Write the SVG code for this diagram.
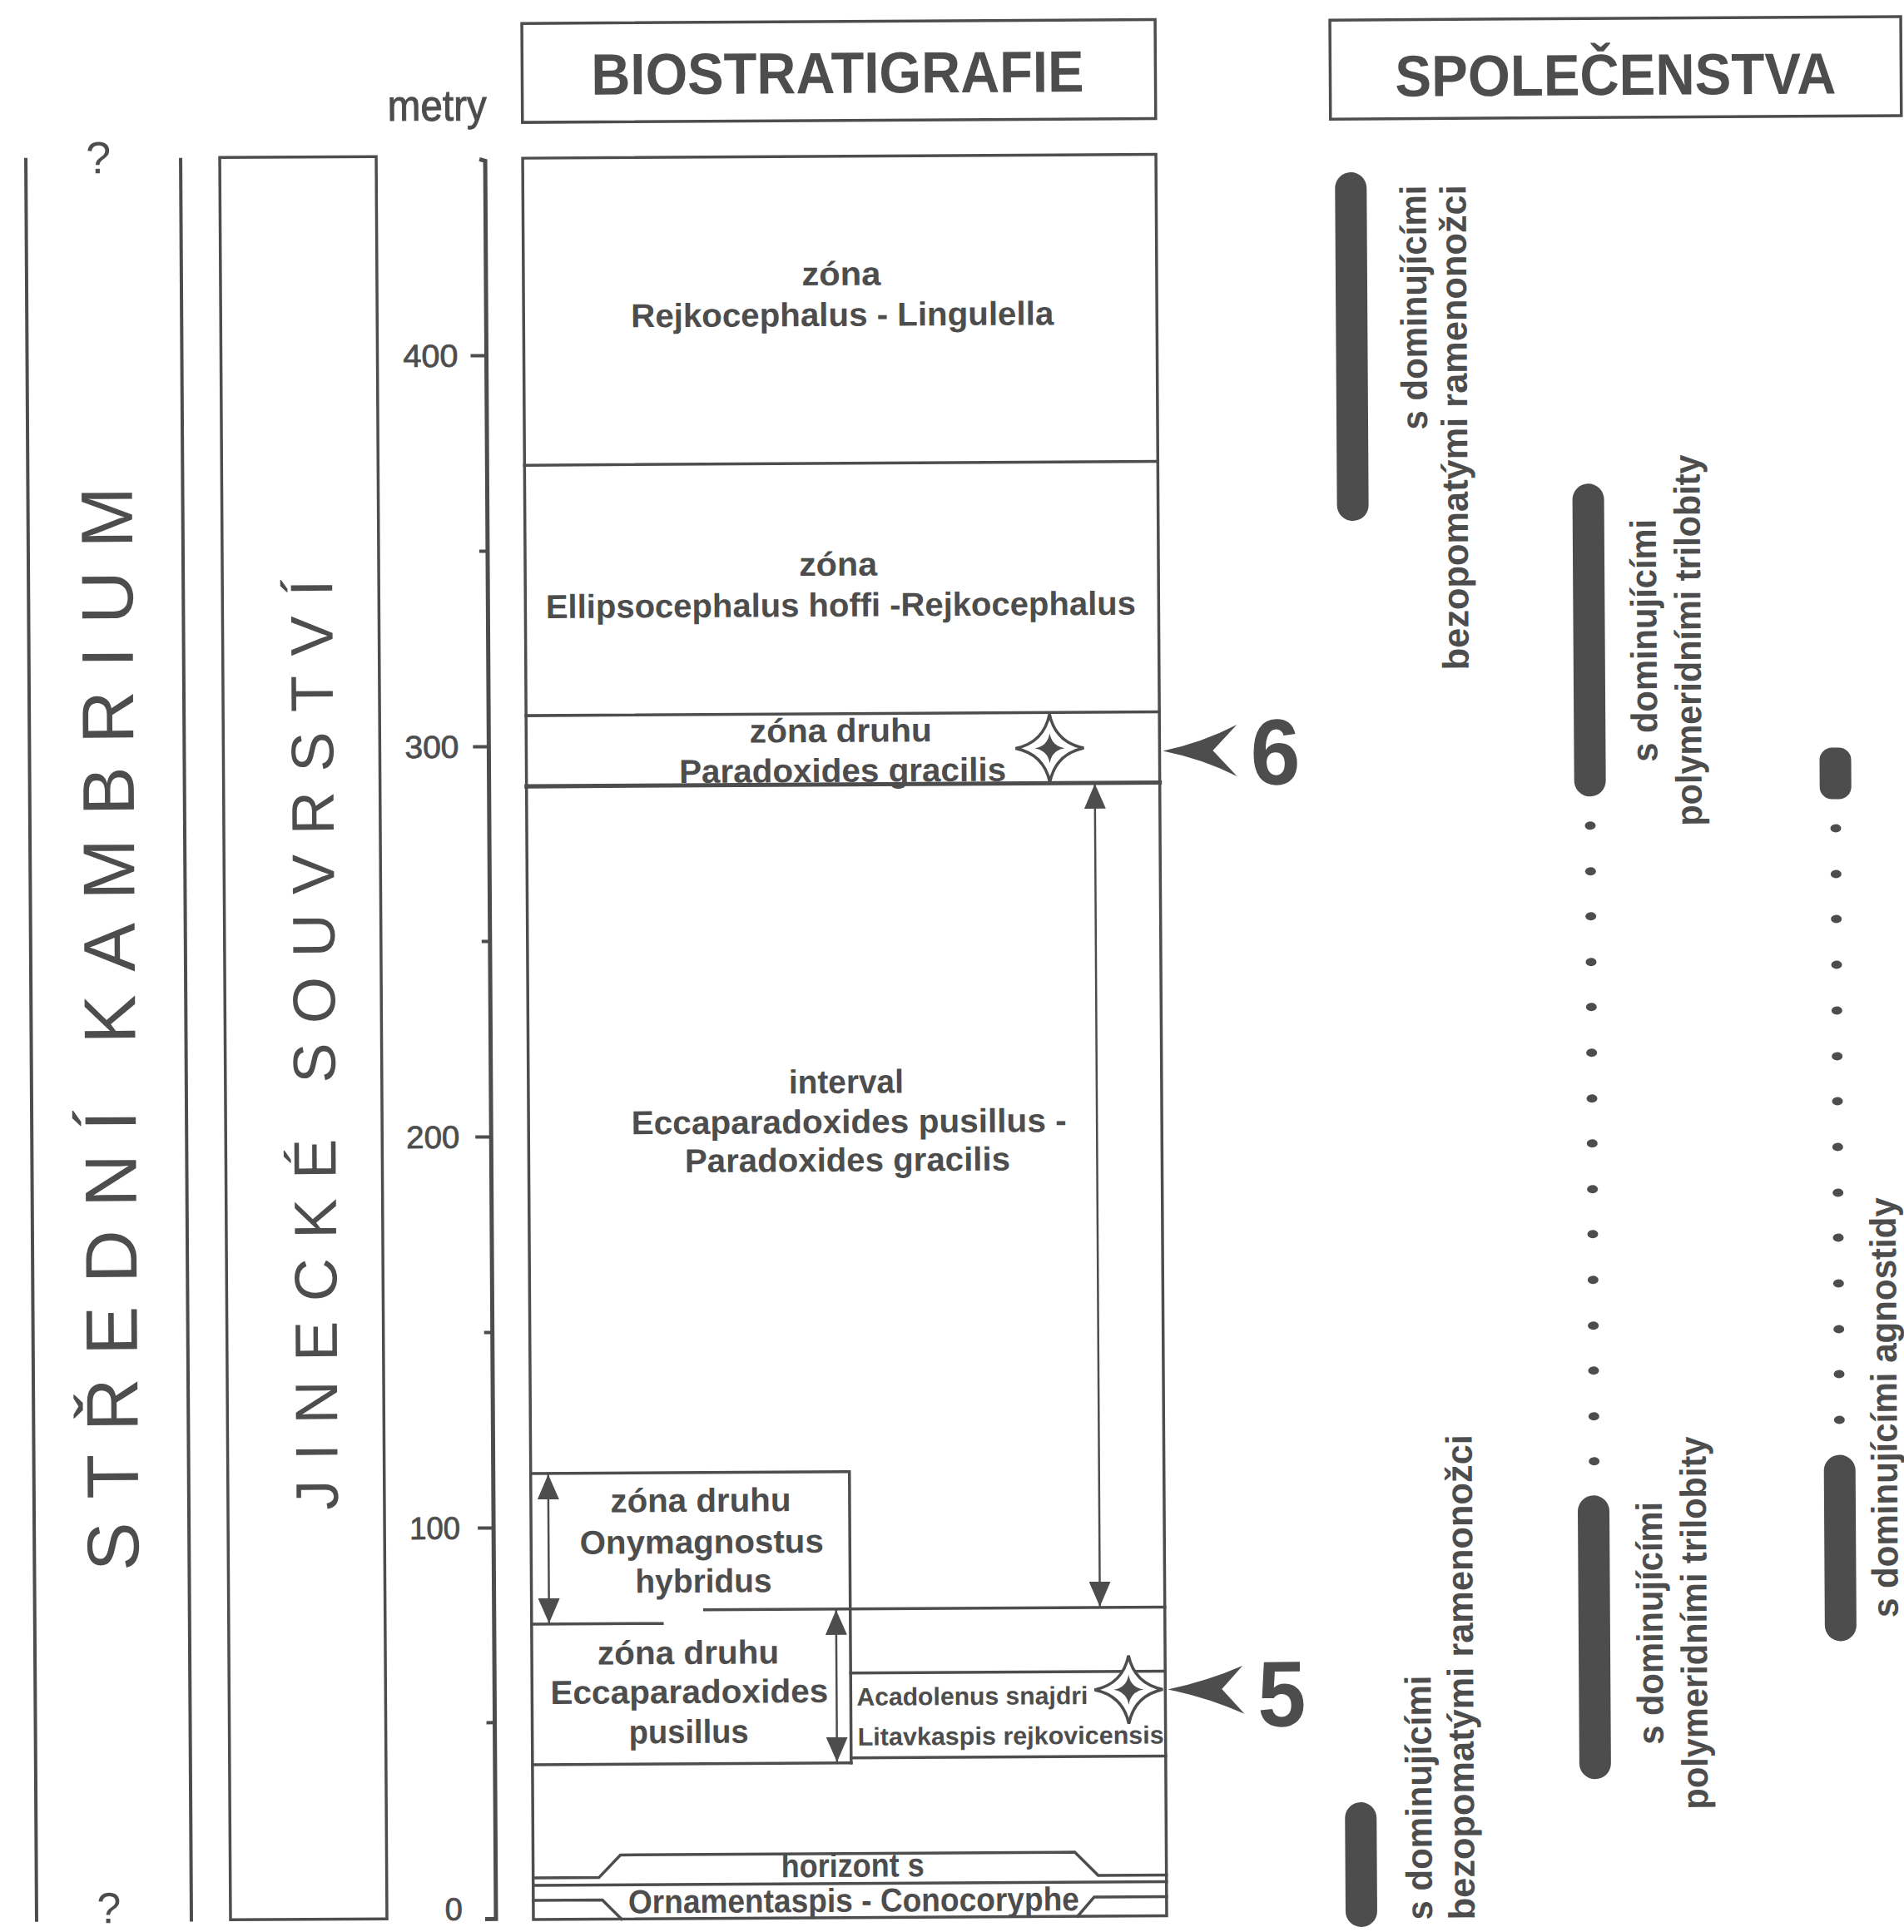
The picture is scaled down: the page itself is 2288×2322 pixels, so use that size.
<svg xmlns="http://www.w3.org/2000/svg" width="2288" height="2322" viewBox="0 0 2288 2322">
<style>
.ln{fill:none;stroke:#4d4d4d;stroke-width:3.5;stroke-linecap:square}
.thk{stroke-width:5}
.tx{font-family:"Liberation Sans",Arial,Helvetica,sans-serif;fill:#4d4d4d}
.zn{font-size:40px;font-weight:bold;text-anchor:middle}
.sm{font-size:30px;font-weight:bold}
.cm{font-size:44px;font-weight:bold}
.hd{font-size:70px;font-weight:bold;text-anchor:middle}
.big{font-weight:normal}
.lab{font-size:38px;text-anchor:end;stroke:#4d4d4d;stroke-width:0.8}
.ink{fill:#4d4d4d}
.arr{stroke:#4d4d4d;stroke-width:2.5;fill:none}
</style>
<defs>
<marker id="ah" viewBox="0 0 30 26" refX="30" refY="13" markerWidth="30" markerHeight="26" orient="auto-start-reverse" markerUnits="userSpaceOnUse"><path d="M0,0 L30,13 L0,26 Z" fill="#4d4d4d"/></marker>
<g id="star">
<path d="M0,-41 Q7,-7 41,0 Q7,7 0,41 Q-7,7 -41,0 Q-7,-7 0,-41 Z" fill="#fff" stroke="#4d4d4d" stroke-width="3.5"/>
<path d="M0,-18 Q2.5,-2.5 18,0 Q2.5,2.5 0,18 Q-2.5,2.5 -18,0 Q-2.5,-2.5 0,-18 Z" fill="#4d4d4d"/>
</g>
</defs>
<rect width="2288" height="2322" fill="#fff"/>
<g transform="rotate(-0.35 1144 1161)">

<g id="col-kambrium">
<line class="ln" x1="37" y1="185" x2="37" y2="2301" style="stroke-width:4"/>
<text class="tx" x="124" y="202" font-size="54" text-anchor="middle">?</text>
<text class="tx" x="124" y="2305" font-size="52" text-anchor="middle">?</text>
<text class="tx big" transform="translate(162,1882) rotate(-90)" font-size="88" textLength="1303" lengthAdjust="spacing">STŘEDNÍ KAMBRIUM</text>
</g>

<g id="col-souvrstvi">
<line class="ln" x1="223" y1="186" x2="223" y2="2302" style="stroke-width:4"/>
<rect class="ln" x="270" y="184" width="188" height="2118"/>
<text class="tx big" transform="translate(402,1810) rotate(-90)" font-size="72" textLength="1118" lengthAdjust="spacing">JINECKÉ SOUVRSTVÍ</text>
</g>

<g id="axis">
<text class="tx" x="591" y="141" font-size="52" text-anchor="end" textLength="119" lengthAdjust="spacingAndGlyphs" stroke="#4d4d4d" stroke-width="1">metry</text>
<path class="ln" d="M582,188 L589,190 L589,2303 L576,2303" style="stroke-width:5;stroke-linecap:butt"/>
<g class="ln" style="stroke-width:4;stroke-linecap:butt">
<line x1="570" y1="424" x2="589" y2="424"/>
<line x1="579" y1="659" x2="589" y2="659"/>
<line x1="570" y1="894" x2="589" y2="894"/>
<line x1="579" y1="1128" x2="589" y2="1128"/>
<line x1="570" y1="1363" x2="589" y2="1363"/>
<line x1="579" y1="1598" x2="589" y2="1598"/>
<line x1="570" y1="1833" x2="589" y2="1833"/>
<line x1="579" y1="2067" x2="589" y2="2067"/>
</g>
<text class="tx lab" x="555" y="437" textLength="66" lengthAdjust="spacingAndGlyphs">400</text>
<text class="tx lab" x="553" y="907" textLength="65" lengthAdjust="spacingAndGlyphs">300</text>
<text class="tx lab" x="551" y="1376" textLength="64" lengthAdjust="spacingAndGlyphs">200</text>
<text class="tx lab" x="549" y="1846" textLength="61" lengthAdjust="spacingAndGlyphs">100</text>
<text class="tx lab" x="549" y="2304">0</text>
</g>

<g id="header-biostratigrafie">
<rect class="ln" x="634" y="25" width="761" height="119"/>
<text class="tx hd" x="1013" y="111" textLength="592" lengthAdjust="spacingAndGlyphs">BIOSTRATIGRAFIE</text>
</g>

<g id="header-spolecenstva">
<rect class="ln" x="1605" y="27" width="686" height="119"/>
<text class="tx hd" x="1948" y="119" font-size="68" textLength="530" lengthAdjust="spacingAndGlyphs">SPOLEČENSTVA</text>
</g>

<g id="frame-biostratigrafie">
<rect class="ln" x="634" y="187" width="761" height="2117"/>
</g>

<g id="zone-rejkocephalus-lingulella">
<line class="ln" x1="634" y1="556" x2="1395" y2="556"/>
<text class="tx zn" x="1016" y="342" textLength="95" lengthAdjust="spacingAndGlyphs">zóna</text>
<text class="tx zn" x="1017" y="391" textLength="508" lengthAdjust="spacingAndGlyphs">Rejkocephalus - Lingulella</text>
</g>

<g id="zone-ellipsocephalus">
<line class="ln" x1="634" y1="857" x2="1395" y2="857"/>
<text class="tx zn" x="1010" y="691" textLength="94" lengthAdjust="spacingAndGlyphs">zóna</text>
<text class="tx zn" x="1013" y="740" textLength="709" lengthAdjust="spacingAndGlyphs">Ellipsocephalus hoffi -Rejkocephalus</text>
</g>

<g id="zone-paradoxides-gracilis">
<line class="ln thk" x1="634" y1="942" x2="1395" y2="942"/>
<text class="tx zn" x="1012" y="891" textLength="219" lengthAdjust="spacingAndGlyphs">zóna druhu</text>
<text class="tx zn" x="1014" y="939" textLength="393" lengthAdjust="spacingAndGlyphs">Paradoxides gracilis</text>
<use href="#star" x="1263" y="900"/>
</g>

<g id="zone-interval">
<line class="ln" x1="842" y1="1933" x2="1395" y2="1933"/>
<text class="tx zn" x="1016" y="1313" textLength="138" lengthAdjust="spacingAndGlyphs">interval</text>
<text class="tx zn" x="1019" y="1361" textLength="523" lengthAdjust="spacingAndGlyphs">Eccaparadoxides pusillus -</text>
<text class="tx zn" x="1017" y="1407" textLength="391" lengthAdjust="spacingAndGlyphs">Paradoxides gracilis</text>
</g>

<g id="zone-onymagnostus">
<polyline class="ln" points="634,1768 1017,1768 1017,2118"/>
<line class="ln" x1="634" y1="1949" x2="791" y2="1949"/>
<text class="tx zn" x="838" y="1815" textLength="217" lengthAdjust="spacingAndGlyphs">zóna druhu</text>
<text class="tx zn" x="839" y="1865" textLength="293" lengthAdjust="spacingAndGlyphs">Onymagnostus</text>
<text class="tx zn" x="841" y="1912" textLength="164" lengthAdjust="spacingAndGlyphs">hybridus</text>
</g>

<g id="zone-eccaparadoxides-pusillus">
<line class="ln" x1="634" y1="2118" x2="1017" y2="2118"/>
<text class="tx zn" x="822" y="1998" textLength="218" lengthAdjust="spacingAndGlyphs">zóna druhu</text>
<text class="tx zn" x="823" y="2045" textLength="334" lengthAdjust="spacingAndGlyphs">Eccaparadoxides</text>
<text class="tx zn" x="822" y="2093" textLength="144" lengthAdjust="spacingAndGlyphs">pusillus</text>
</g>

<g id="zone-acadolenus">
<line class="ln" x1="1017" y1="2010" x2="1395" y2="2010"/>
<line class="ln" x1="1017" y1="2112" x2="1395" y2="2112"/>
<text class="tx sm" x="1024" y="2049" textLength="278" lengthAdjust="spacingAndGlyphs">Acadolenus snajdri</text>
<text class="tx sm" x="1025" y="2097" textLength="368" lengthAdjust="spacingAndGlyphs">Litavkaspis rejkovicensis</text>
<use href="#star" x="1351" y="2032"/>
</g>

<g id="zone-horizont">
<polyline class="ln" points="634,2254 713,2254 739,2227 1285,2227 1313,2255 1395,2255"/>
<line class="ln" x1="634" y1="2263" x2="1395" y2="2263"/>
<polyline class="ln" points="634,2281 717,2281 740,2304"/>
<polyline class="ln" points="1288,2304 1308,2281 1395,2281"/>
<text class="tx zn" x="1018" y="2255" textLength="172" lengthAdjust="spacingAndGlyphs">horizont s</text>
<text class="tx zn" x="1019" y="2297" textLength="542" lengthAdjust="spacingAndGlyphs">Ornamentaspis - Conocoryphe</text>
</g>

<g id="marker-6">
<path class="ink" d="M1399,904 Q1447,894 1488,873 L1459,904 L1488,935 Q1447,914 1399,904 Z"/>
<text class="tx" x="1534" y="945" font-size="112" font-weight="bold" text-anchor="middle" textLength="60" lengthAdjust="spacingAndGlyphs">6</text>
</g>

<g id="marker-5">
<path class="ink" d="M1398,2032 Q1446,2022 1488,2004 L1463,2032 L1490,2062 Q1446,2042 1398,2032 Z"/>
<text class="tx" x="1535" y="2077" font-size="112" font-weight="bold" text-anchor="middle" textLength="58" lengthAdjust="spacingAndGlyphs">5</text>
</g>

<g id="community-brachiopods-upper">
<rect class="ink" x="1610" y="210" width="38" height="419" rx="19"/>
<text class="tx cm" transform="translate(1719,226) rotate(-90)" text-anchor="end" textLength="294" lengthAdjust="spacingAndGlyphs">s dominujícími</text>
<text class="tx cm" transform="translate(1767,226) rotate(-90)" text-anchor="end" textLength="583" lengthAdjust="spacingAndGlyphs">bezopomatými ramenonožci</text>
</g>

<g id="community-brachiopods-lower">
<rect class="ink" x="1610" y="2169" width="38" height="150" rx="19"/>
<text class="tx cm" transform="translate(1714,2311) rotate(-90)" textLength="294" lengthAdjust="spacingAndGlyphs">s dominujícími</text>
<text class="tx cm" transform="translate(1765,2311) rotate(-90)" textLength="583" lengthAdjust="spacingAndGlyphs">bezopomatými ramenonožci</text>
</g>

<g id="community-trilobites-upper">
<rect class="ink" x="1893" y="586" width="38" height="376" rx="19"/>
<text class="tx cm" transform="translate(1993,775) rotate(-90)" text-anchor="middle" textLength="292" lengthAdjust="spacingAndGlyphs">s dominujícími</text>
<text class="tx cm" transform="translate(2046,775) rotate(-90)" text-anchor="middle" textLength="446" lengthAdjust="spacingAndGlyphs">polymeridními trilobity</text>
</g>

<g id="community-trilobites-lower">
<rect class="ink" x="1892" y="1802" width="38" height="341" rx="19"/>
<text class="tx cm" transform="translate(1993,1956) rotate(-90)" text-anchor="middle" textLength="292" lengthAdjust="spacingAndGlyphs">s dominujícími</text>
<text class="tx cm" transform="translate(2046,1956) rotate(-90)" text-anchor="middle" textLength="448" lengthAdjust="spacingAndGlyphs">polymeridními trilobity</text>
</g>

<g id="community-agnostids-upper">
<rect class="ink" x="2188" y="905" width="38" height="62" rx="15"/>
</g>

<g id="community-agnostids-lower">
<rect class="ink" x="2188" y="1755" width="38" height="224" rx="19"/>
<text class="tx cm" transform="translate(2276,1951) rotate(-90)" textLength="505" lengthAdjust="spacingAndGlyphs">s dominujícími agnostidy</text>
</g>

<g id="connectors">
<line class="arr" x1="1317" y1="943" x2="1317" y2="1932" marker-start="url(#ah)" marker-end="url(#ah)"/>
<line class="arr" x1="655" y1="1769" x2="655" y2="1948" marker-start="url(#ah)" marker-end="url(#ah)"/>
<line class="arr" x1="1000" y1="1934" x2="1000" y2="2117" marker-start="url(#ah)" marker-end="url(#ah)"/>
<g class="ink">
<ellipse cx="1912" cy="997" rx="6.5" ry="5"/>
<ellipse cx="1912" cy="1052" rx="6.5" ry="5"/>
<ellipse cx="1912" cy="1106" rx="6.5" ry="5"/>
<ellipse cx="1912" cy="1161" rx="6.5" ry="5"/>
<ellipse cx="1912" cy="1215" rx="6.5" ry="5"/>
<ellipse cx="1912" cy="1270" rx="6.5" ry="5"/>
<ellipse cx="1912" cy="1325" rx="6.5" ry="5"/>
<ellipse cx="1912" cy="1379" rx="6.5" ry="5"/>
<ellipse cx="1912" cy="1434" rx="6.5" ry="5"/>
<ellipse cx="1912" cy="1488" rx="6.5" ry="5"/>
<ellipse cx="1912" cy="1543" rx="6.5" ry="5"/>
<ellipse cx="1912" cy="1598" rx="6.5" ry="5"/>
<ellipse cx="1912" cy="1652" rx="6.5" ry="5"/>
<ellipse cx="1912" cy="1707" rx="6.5" ry="5"/>
<ellipse cx="1912" cy="1761" rx="6.5" ry="5"/>
<ellipse cx="2207" cy="1002" rx="6.5" ry="5"/>
<ellipse cx="2207" cy="1057" rx="6.5" ry="5"/>
<ellipse cx="2207" cy="1111" rx="6.5" ry="5"/>
<ellipse cx="2207" cy="1166" rx="6.5" ry="5"/>
<ellipse cx="2207" cy="1221" rx="6.5" ry="5"/>
<ellipse cx="2207" cy="1276" rx="6.5" ry="5"/>
<ellipse cx="2207" cy="1330" rx="6.5" ry="5"/>
<ellipse cx="2207" cy="1385" rx="6.5" ry="5"/>
<ellipse cx="2207" cy="1440" rx="6.5" ry="5"/>
<ellipse cx="2207" cy="1494" rx="6.5" ry="5"/>
<ellipse cx="2207" cy="1549" rx="6.5" ry="5"/>
<ellipse cx="2207" cy="1604" rx="6.5" ry="5"/>
<ellipse cx="2207" cy="1658" rx="6.5" ry="5"/>
<ellipse cx="2207" cy="1713" rx="6.5" ry="5"/>
</g>
</g>

</g>
</svg>
